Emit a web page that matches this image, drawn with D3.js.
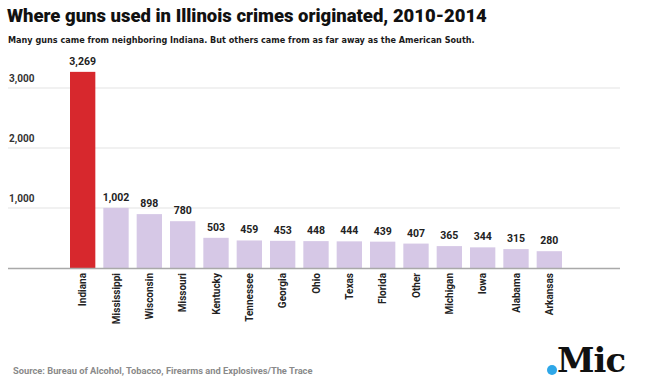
<!DOCTYPE html>
<html>
<head>
<meta charset="UTF-8">
<title>Illinois guns</title>
<script src="https://cdnjs.cloudflare.com/ajax/libs/d3/7.8.5/d3.min.js"></script>
<style>
  body { margin: 0; background: #fff; }
  text { font-family: Roboto, Lato, sans-serif; }
</style>
</head>
<body>
<svg id="chart" width="646" height="385"></svg>
<script>
// data
var states = ["Indiana", "Mississippi", "Wisconsin", "Missouri", "Kentucky", "Tennessee", "Georgia",
              "Ohio", "Texas", "Florida", "Other", "Michigan", "Iowa", "Alabama", "Arkansas"];
var guns = [3269, 1002, 898, 780, 503, 459, 453, 448, 444, 439, 407, 365, 344, 315, 280];
var yTicks = [1000, 2000, 3000];

var svg = d3.select("#chart");

var x = d3.scaleBand().domain(states).range([66, 566]).paddingInner(0.24).paddingOuter(0.12);
var y = d3.scaleLinear().domain([0, 3000]).range([268, 88]);
var fmt = d3.format(",");

// shrink/grow a text's font so it spans a given width
function fit(sel, w) {
    var n = sel.node(), fs = +sel.attr("font-size");
    sel.attr("font-size", fs * w / n.getComputedTextLength());
    return sel;
}

// title + subtitle
fit(svg.append("text").attr("x", 7).attr("y", 22)
    .attr("font-size", 19).attr("font-weight", 900).attr("fill", "#111")
    .text("Where guns used in Illinois crimes originated, 2010-2014"), 480);
fit(svg.append("text").attr("x", 8).attr("y", 43)
    .attr("font-size", 9.5).attr("font-weight", 700).attr("fill", "#1a1a1a")
    .style("font-family", "'DejaVu Sans', sans-serif")
    .text("Many guns came from neighboring Indiana. But others came from as far away as the American South."), 467);

// gridlines + y labels
var grid = svg.append("g");
grid.selectAll("line").data(yTicks).enter().append("line")
    .attr("x1", 8).attr("x2", 620)
    .attr("y1", function (d) { return y(d); }).attr("y2", function (d) { return y(d); })
    .attr("stroke", "#e3e3e3").attr("stroke-width", 1);
grid.selectAll("text").data(yTicks).enter().append("text")
    .attr("x", 9).attr("y", function (d) { return y(d) - 6; })
    .attr("font-size", 10).attr("font-weight", 700).attr("fill", "#333")
    .text(fmt);

// bars
svg.append("g").selectAll("rect").data(states).enter().append("rect")
    .attr("x", function (d) { return x(d); })
    .attr("width", x.bandwidth())
    .attr("y", function (d, i) { return y(guns[i]); })
    .attr("height", function (d, i) { return y(0) - y(guns[i]); })
    .attr("fill", function (d, i) { return i === 0 ? "#d7282d" : "#d6c8e6"; });

// baseline
svg.append("line").attr("x1", 8).attr("x2", 620).attr("y1", y(0) + 0.5).attr("y2", y(0) + 0.5)
    .attr("stroke", "#a9a9a9").attr("stroke-width", 1.5);

// value labels
svg.append("g").selectAll("text").data(states).enter().append("text")
    .attr("x", function (d) { return x(d) + x.bandwidth() / 2; })
    .attr("y", function (d, i) { return y(guns[i]) - 7; })
    .attr("text-anchor", "middle")
    .attr("font-size", 10.5).attr("font-weight", 700).attr("fill", "#222")
    .text(function (d, i) { return fmt(guns[i]); });

// category labels (rotated)
svg.append("g").selectAll("text").data(states).enter().append("text")
    .attr("transform", function (d) {
        return "translate(" + (x(d) + x.bandwidth() / 2 + 3.5) + ",273) rotate(-90)";
    })
    .attr("text-anchor", "end")
    .attr("font-size", 10).attr("font-weight", 700).attr("fill", "#222")
    .text(function (d) { return d; });

// source
fit(svg.append("text").attr("x", 13).attr("y", 374)
    .attr("font-size", 9).attr("font-weight", 700).attr("fill", "#8a8a8a")
    .text("Source: Bureau of Alcohol, Tobacco, Firearms and Explosives/The Trace"), 300);

// logo
svg.append("circle").attr("cx", 552).attr("cy", 370).attr("r", 5).attr("fill", "#2ea7e8");
fit(svg.append("text").attr("x", 557).attr("y", 372)
    .attr("font-size", 33).attr("font-weight", 700).attr("fill", "#111")
    .style("font-family", "'DejaVu Serif', serif").attr("letter-spacing", -1)
    .text("Mic"), 68);
</script>
</body>
</html>
